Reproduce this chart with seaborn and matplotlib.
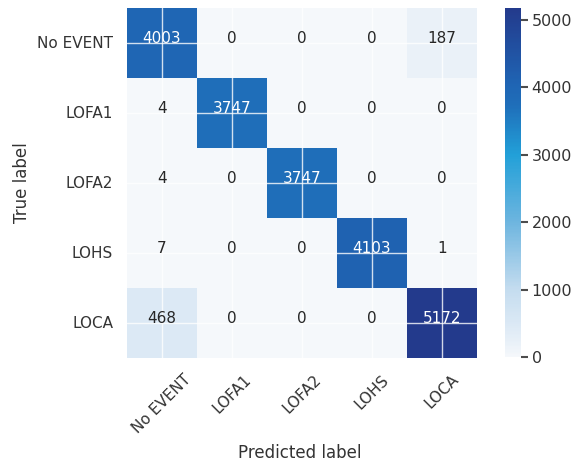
import matplotlib
matplotlib.use("Agg")
import matplotlib.pyplot as plt
from matplotlib.colors import LinearSegmentedColormap
import seaborn as sns
import pandas as pd

# Class names (true rows, predicted columns)
classes = ["No EVENT", "LOFA1", "LOFA2", "LOHS", "LOCA"]

# Confusion-matrix counts, one list per true class
row_no_event = [4003, 0, 0, 0, 187]
row_lofa1 = [4, 3747, 0, 0, 0]
row_lofa2 = [4, 0, 3747, 0, 0]
row_lohs = [7, 0, 0, 4103, 1]
row_loca = [468, 0, 0, 0, 5172]

cbar_ticks = [0, 1000, 2000, 3000, 4000, 5000]

cm = pd.DataFrame(
    [row_no_event, row_lofa1, row_lofa2, row_lohs, row_loca],
    index=classes, columns=classes,
)

# blue ramp: near-white -> light blue -> cyan -> mid blue -> navy
blues = LinearSegmentedColormap.from_list("cm_blues", [
    (0.0, "#f5f8fb"), (0.036, "#eaf1f8"), (0.09, "#dce9f5"),
    (0.193, "#c4dcef"), (0.387, "#6db5df"), (0.58, "#22a0d8"),
    (0.72, "#1f6fba"), (0.78, "#1f65b4"), (1.0, "#233a8c"),
])

sns.set_style("darkgrid")
plt.rcParams["font.family"] = ["DejaVu Sans"]

W, H = 581, 465
fig = plt.figure(figsize=(W / 100, H / 100), dpi=100)
ax = fig.add_axes([127 / W, 1 - 358 / H, 350 / W, 350 / H])
cax = fig.add_axes([505 / W, 1 - 357 / H, 15.5 / W, 349 / H])

sns.heatmap(
    cm, ax=ax, cbar_ax=cax, cmap=blues, vmin=0, vmax=cm.values.max(),
    annot=True, fmt="d", square=False,
    annot_kws=dict(fontsize=11, va="baseline"),
    cbar_kws=dict(ticks=cbar_ticks),
)

# white grid lines through the cell centres, drawn over the image
ax.grid(True, color="white", linewidth=1, alpha=0.8)
ax.set_axisbelow(False)
for s in ax.spines.values():
    s.set_visible(False)

ax.set_xticklabels(classes, rotation=45, ha="center", fontsize=11, color=".2")
ax.set_yticklabels(classes, rotation=0, fontsize=11, color=".2")
ax.tick_params(axis="x", length=0, pad=10)
ax.tick_params(axis="y", length=0, pad=10)

ax.set_xlabel("Predicted label", fontsize=12, color=".2")
ax.set_ylabel("True label", fontsize=12, color=".2")
ax.xaxis.set_label_coords(0.494, -0.245)
ax.yaxis.set_label_coords(-0.275, 0.5)

cax.tick_params(axis="y", right=True, length=5, width=1.5, color=".3",
                labelsize=11.5, labelcolor=".2", pad=3)

fig.savefig("out.png", dpi=100)
